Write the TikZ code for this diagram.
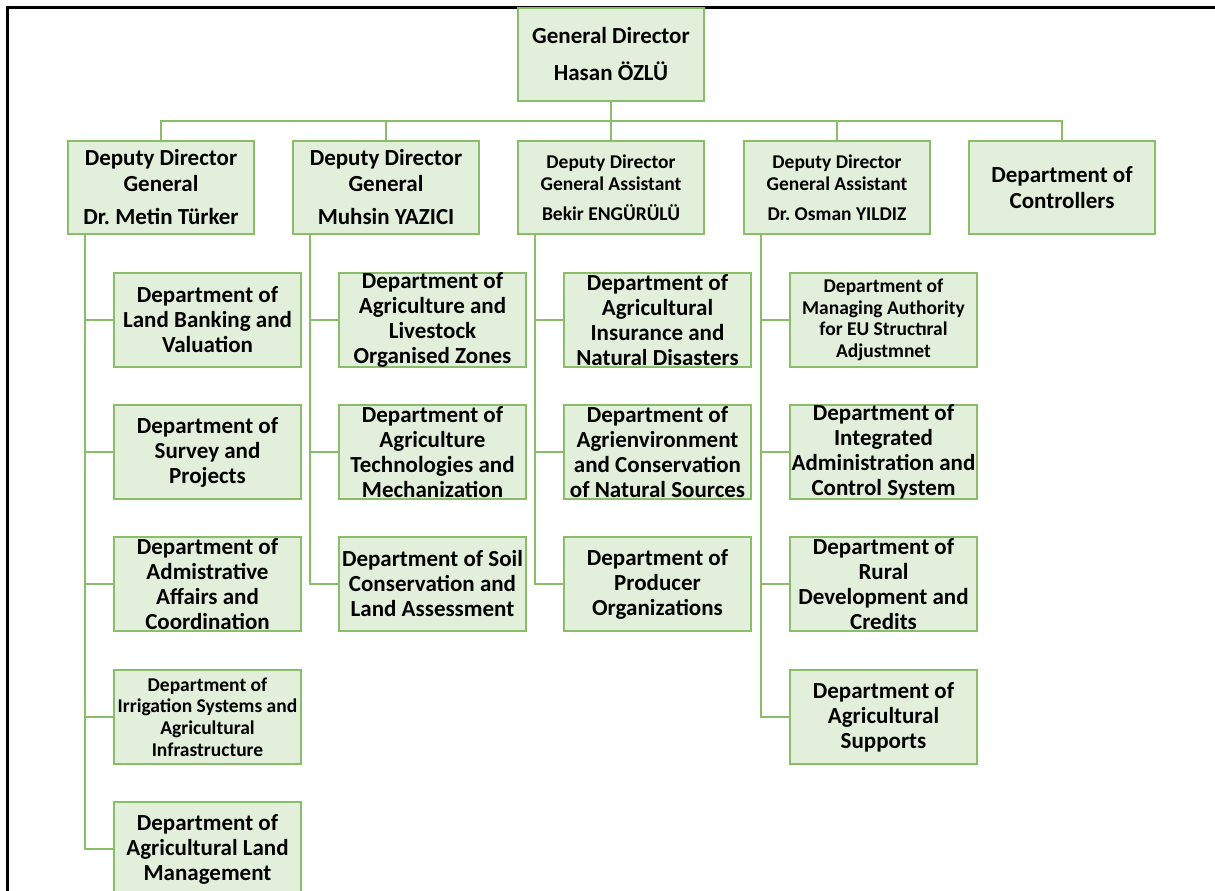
\documentclass[tikz,border=0pt]{standalone}
\usepackage{fontspec}
\setmainfont{Carlito}
\definecolor{unitfill}{RGB}{226,239,218}
\definecolor{unitline}{RGB}{137,189,105}

\begin{document}
\begin{tikzpicture}[x=1pt,y=-1pt]

\tikzset{
  unit/.style={draw=unitline, fill=unitfill, line width=2pt, minimum width=186pt, minimum height=93pt,
    inner sep=0pt, align=center, font=\bfseries\fontsize{23}{25}\selectfont},
  dept/.style={unit, minimum width=187pt, minimum height=94pt},
  smalldept/.style={dept, font=\bfseries\fontsize{19.5}{21.7}\selectfont},
  link/.style={draw=unitline, line width=2pt}
}

\useasboundingbox (0,0) rectangle (1215,891);
\clip (0,0) rectangle (1215,891);
\draw[line width=2.5pt] (7.5,891) -- (7.5,7.5) -- (1215,7.5);

% top level
\node[unit] (gd) at (611,54.5) {General Director\\[12pt]Hasan ÖZLÜ};

% deputies
\node[unit, font=\bfseries\fontsize{23}{25.5}\selectfont] (dd1) at (161,187.5) {Deputy Director\\General\\[8pt]Dr.\ Metin Türker};
\node[unit, font=\bfseries\fontsize{23}{25.5}\selectfont] (dd2) at (386,187.5) {Deputy Director\\General\\[8pt]Muhsin YAZICI};
\node[unit, font=\bfseries\fontsize{19.5}{22}\selectfont] (dd3) at (611,187.5) {Deputy Director\\General Assistant\\[8pt]Bekir ENGÜRÜLÜ};
\node[unit, font=\bfseries\fontsize{19.5}{22}\selectfont] (dd4) at (837,187.5) {Deputy Director\\General Assistant\\[8pt]Dr.\ Osman YILDIZ};
\node[unit, font=\bfseries\fontsize{23}{26}\selectfont] (ctrl) at (1062,187.5) {Department of\\Controllers};

\coordinate (bus) at (0,121);
\draw[link] (gd.south) -- (dd3.north);
\draw[link] (dd1.north) -- (dd1.north |- bus) -| (ctrl.north);
\draw[link] (dd2.north |- bus) -- (dd2.north);
\draw[link] (dd4.north |- bus) -- (dd4.north);

% departments under dd1
\node[dept] (a1) at (207.5,320) {Department of\\Land Banking and\\Valuation};
\node[dept] (a2) at (207.5,452) {Department of\\Survey and\\Projects};
\node[dept] (a3) at (207.5,584) {Department of\\Admistrative\\Affairs and\\Coordination};
\node[smalldept] (a4) at (207.5,717) {Department of\\Irrigation Systems and\\Agricultural\\Infrastructure};
\node[dept] (a5) at (207.5,849) {Department of\\Agricultural Land\\Management};

% departments under dd2
\node[dept] (b1) at (432.5,320) {Department of\\Agriculture and\\Livestock\\Organised Zones};
\node[dept] (b2) at (432.5,452) {Department of\\Agriculture\\Technologies and\\Mechanization};
\node[dept] (b3) at (432.5,584) {Department of Soil\\Conservation and\\Land Assessment};

% departments under dd3
\node[dept] (c1) at (657.5,320) {Department of\\Agricultural\\Insurance and\\Natural Disasters};
\node[dept] (c2) at (657.5,452) {Department of\\Agrienvironment\\and Conservation\\of Natural Sources};
\node[dept] (c3) at (657.5,584) {Department of\\Producer\\Organizations};

% departments under dd4
\node[smalldept] (e1) at (883.5,320) {Department of\\Managing Authority\\for EU Structıral\\Adjustmnet};
\node[dept] (e2) at (883.5,452) {Department of\\Integrated\\Administration and\\Control System};
\node[dept] (e3) at (883.5,584) {Department of\\Rural\\Development and\\Credits};
\node[dept] (e4) at (883.5,717) {Department of\\Agricultural\\Supports};

\draw[link] ([xshift=18pt]dd1.south west) |- (a5.west);
\draw[link] ([xshift=18pt]dd1.south west) |- (a1.west);
\draw[link] ([xshift=18pt]dd1.south west) |- (a2.west);
\draw[link] ([xshift=18pt]dd1.south west) |- (a3.west);
\draw[link] ([xshift=18pt]dd1.south west) |- (a4.west);

\draw[link] ([xshift=18pt]dd2.south west) |- (b3.west);
\draw[link] ([xshift=18pt]dd2.south west) |- (b1.west);
\draw[link] ([xshift=18pt]dd2.south west) |- (b2.west);

\draw[link] ([xshift=18pt]dd3.south west) |- (c3.west);
\draw[link] ([xshift=18pt]dd3.south west) |- (c1.west);
\draw[link] ([xshift=18pt]dd3.south west) |- (c2.west);

\draw[link] ([xshift=18pt]dd4.south west) |- (e4.west);
\draw[link] ([xshift=18pt]dd4.south west) |- (e1.west);
\draw[link] ([xshift=18pt]dd4.south west) |- (e2.west);
\draw[link] ([xshift=18pt]dd4.south west) |- (e3.west);

\end{tikzpicture}
\end{document}
